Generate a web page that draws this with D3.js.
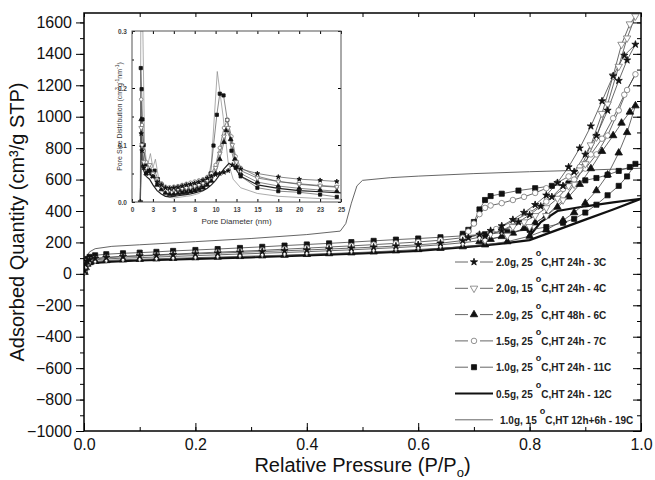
<!DOCTYPE html>
<html>
<head>
<meta charset="utf-8">
<script src="https://cdn.jsdelivr.net/npm/d3@7/dist/d3.min.js"></script>
<style>
  body { margin: 0; background: #fff; }
  text { font-family: Arial, "Liberation Sans", sans-serif; }
</style>
</head>
<body>
<div id="chart"></div>
<script>
// ---- isotherm data: [P/Po, adsorbed quantity] ----
var iso3C = [[0.001,20],[0.003,60],[0.006,80],[0.01,90],[0.02,98],[0.04,104],[0.07,110],[0.1,114],[0.13,118],[0.16,122],[0.2,127],[0.24,132],[0.28,137],[0.32,142],[0.36,147],[0.4,152],[0.44,158],[0.48,164],[0.52,170],[0.56,177],[0.6,185],[0.64,195],[0.68,212],[0.72,240],[0.75,275],[0.78,330],[0.8,375],[0.82,430],[0.84,490],[0.86,560],[0.88,650],[0.9,760],[0.92,880],[0.94,1040],[0.96,1230],[0.975,1360],[0.99,1460],
  [0.97,1390],[0.95,1260],[0.93,1100],[0.91,940],[0.89,800],[0.87,680],[0.85,580],[0.83,500],[0.81,440],[0.79,390],[0.77,345],[0.75,305],[0.73,275],[0.71,250],[0.69,230]];
var iso4C = [[0.001,15],[0.003,50],[0.006,72],[0.01,82],[0.02,90],[0.04,95],[0.07,100],[0.1,103],[0.13,107],[0.16,111],[0.2,116],[0.24,121],[0.28,126],[0.32,131],[0.36,136],[0.4,141],[0.44,147],[0.48,153],[0.52,160],[0.56,167],[0.6,175],[0.64,185],[0.68,198],[0.72,215],[0.76,245],[0.8,300],[0.83,370],[0.86,470],[0.88,570],[0.9,700],[0.92,870],[0.94,1080],[0.96,1320],[0.975,1500],[0.99,1640],
  [0.98,1590],[0.965,1460],[0.95,1260],[0.93,1020],[0.91,820],[0.89,660],[0.87,560],[0.85,480],[0.83,420],[0.81,370],[0.79,330],[0.77,300],[0.75,275],[0.73,255],[0.71,235]];
var iso6C = [[0.001,10],[0.003,40],[0.006,62],[0.01,72],[0.02,80],[0.04,85],[0.07,90],[0.1,93],[0.13,96],[0.16,99],[0.2,103],[0.24,107],[0.28,111],[0.32,115],[0.36,119],[0.4,124],[0.44,129],[0.48,134],[0.52,140],[0.56,147],[0.6,155],[0.64,163],[0.68,173],[0.72,185],[0.76,205],[0.8,240],[0.83,280],[0.86,340],[0.88,390],[0.9,450],[0.92,530],[0.94,630],[0.96,770],[0.975,900],[0.99,1070],
  [0.98,1030],[0.965,960],[0.95,880],[0.93,780],[0.91,670],[0.89,570],[0.87,490],[0.85,425],[0.83,370],[0.81,325],[0.79,290],[0.77,260],[0.75,238],[0.73,220],[0.71,205]];
var iso7C = [[0.001,18],[0.003,58],[0.006,78],[0.01,88],[0.02,96],[0.04,104],[0.07,111],[0.1,116],[0.13,121],[0.16,126],[0.2,132],[0.24,138],[0.28,144],[0.32,150],[0.36,157],[0.4,164],[0.44,171],[0.48,178],[0.52,186],[0.56,194],[0.6,203],[0.64,214],[0.68,230],[0.71,250],[0.74,285],[0.77,335],[0.8,390],[0.83,460],[0.86,540],[0.88,600],[0.9,670],[0.92,760],[0.94,880],[0.96,1040],[0.975,1170],[0.99,1270],
  [0.97,1140],[0.95,990],[0.93,860],[0.91,760],[0.89,680],[0.87,620],[0.85,580],[0.83,545],[0.81,515],[0.79,490],[0.77,470],[0.75,450],[0.73,435],[0.72,420],[0.71,380],[0.7,320],[0.69,270]];
var iso11C = [[0.001,22],[0.003,68],[0.006,95],[0.01,108],[0.02,118],[0.04,125],[0.07,131],[0.1,135],[0.13,140],[0.16,146],[0.2,152],[0.24,158],[0.28,165],[0.32,172],[0.36,180],[0.4,187],[0.44,194],[0.48,202],[0.52,210],[0.56,218],[0.6,225],[0.64,233],[0.68,242],[0.72,252],[0.76,265],[0.8,280],[0.83,298],[0.86,325],[0.88,350],[0.9,390],[0.92,440],[0.94,500],[0.96,560],[0.975,620],[0.99,700],
  [0.98,680],[0.96,655],[0.94,630],[0.92,610],[0.9,595],[0.87,575],[0.84,560],[0.81,545],[0.78,530],[0.75,510],[0.73,495],[0.72,470],[0.71,410],[0.7,330],[0.69,280],[0.68,255]];
var iso12C = [[0,0],[0.002,30],[0.005,50],[0.01,62],[0.02,70],[0.05,78],[0.1,85],[0.2,95],[0.3,105],[0.4,117],[0.5,130],[0.6,146],[0.7,175],[0.75,192],[0.8,215],[0.85,280],[0.9,345],[0.95,410],[1.0,478],
  [0.95,455],[0.9,430],[0.85,400],[0.82,330],[0.8,240]];
var iso19C = [[0,0],[0.002,60],[0.005,110],[0.01,140],[0.02,160],[0.05,175],[0.1,185],[0.2,205],[0.3,225],[0.4,250],[0.46,272],[0.47,320],[0.48,450],[0.49,560],[0.5,595],[0.55,612],[0.6,622],[0.7,638],[0.8,650],[0.9,660],[1.0,672]];

// ---- pore size distribution (inset): [pore diameter nm, PSD] ----
var psd3C = [[1.0,0],[1.1,0.12],[1.2,0.09],[1.4,0.06],[1.7,0.05],[2.1,0.055],[2.5,0.045],[3.0,0.035],[3.5,0.03],[4.0,0.025],[4.5,0.024],[5.0,0.025],[5.5,0.026],[6.0,0.028],[6.5,0.03],[7.0,0.031],[7.5,0.033],[8.0,0.035],[8.5,0.038],[9.0,0.042],[9.5,0.045],[10,0.048],[10.5,0.05],[11,0.052],[11.5,0.055],[12,0.065],[12.5,0.062],[13,0.058],[15,0.05],[17.5,0.044],[20,0.04],[22.5,0.038],[24.5,0.036]];
var psd4C = [[1.0,0],[1.1,0.13],[1.2,0.1],[1.4,0.07],[1.7,0.06],[2.1,0.065],[2.5,0.05],[3.0,0.038],[3.5,0.03],[4.0,0.024],[4.5,0.022],[5.0,0.022],[5.5,0.023],[6.0,0.024],[6.5,0.025],[7.0,0.026],[7.5,0.028],[8.0,0.03],[8.5,0.033],[9.0,0.038],[9.5,0.045],[10,0.06],[10.5,0.085],[11,0.115],[11.5,0.13],[12,0.1],[12.5,0.07],[13,0.055],[15,0.042],[17.5,0.036],[20,0.032],[22.5,0.029],[24.5,0.027]];
var psd6C = [[1.0,0],[1.1,0.145],[1.2,0.1],[1.4,0.065],[1.7,0.05],[2.1,0.055],[2.5,0.045],[3.0,0.03],[3.5,0.022],[4.0,0.016],[4.5,0.014],[5.0,0.014],[5.5,0.015],[6.0,0.016],[6.5,0.017],[7.0,0.018],[7.5,0.02],[8.0,0.022],[8.5,0.025],[9.0,0.03],[9.5,0.037],[10,0.05],[10.5,0.075],[11,0.105],[11.3,0.126],[11.8,0.11],[12.3,0.075],[13,0.05],[15,0.035],[17.5,0.028],[20,0.024],[22.5,0.021],[24.5,0.019]];
var psd7C = [[1.0,0],[1.1,0.18],[1.2,0.135],[1.4,0.09],[1.7,0.07],[2.1,0.06],[2.5,0.05],[3.0,0.04],[3.5,0.032],[4.0,0.027],[4.5,0.026],[5.0,0.027],[5.5,0.028],[6.0,0.03],[6.5,0.032],[7.0,0.034],[7.5,0.036],[8.0,0.038],[8.5,0.04],[9.0,0.044],[9.5,0.05],[10,0.065],[10.5,0.095],[11,0.13],[11.4,0.144],[11.9,0.115],[12.4,0.08],[13,0.06],[15,0.045],[17.5,0.036],[20,0.031],[22.5,0.028],[24.5,0.026]];
var psd11C = [[1.0,0],[1.05,0.235],[1.15,0.198],[1.25,0.145],[1.4,0.1],[1.6,0.065],[1.9,0.055],[2.3,0.05],[2.7,0.055],[3.1,0.04],[3.5,0.032],[4.0,0.025],[4.5,0.022],[5.0,0.022],[5.5,0.021],[6.0,0.02],[6.5,0.021],[7.0,0.022],[7.5,0.024],[8.0,0.026],[8.5,0.029],[9.0,0.035],[9.4,0.05],[9.75,0.099],[10.15,0.153],[10.5,0.19],[10.95,0.187],[11.4,0.144],[11.9,0.09],[12.4,0.06],[13,0.045],[15,0.025],[17.5,0.019],[20,0.017],[22.5,0.013],[24.5,0.009]];
var psd12C = [[1.0,0],[1.1,0.1],[1.2,0.075],[1.4,0.055],[1.7,0.045],[2.1,0.04],[2.5,0.03],[3.0,0.02],[3.5,0.014],[4.0,0.01],[4.5,0.009],[5.0,0.01],[5.5,0.011],[6.0,0.012],[6.5,0.013],[7.0,0.014],[7.5,0.016],[8.0,0.018],[8.5,0.02],[9.0,0.024],[9.5,0.03],[10,0.038],[10.5,0.048],[11,0.058],[11.6,0.068],[12.2,0.062],[13,0.045],[15,0.03],[17.5,0.024],[20,0.02],[22.5,0.018],[25,0.016]];
var psd19C = [[1.0,0],[1.05,0.3],[1.3,0.3],[1.5,0.1],[1.8,0.06],[2.2,0.085],[2.5,0.06],[2.8,0.075],[3.2,0.04],[3.6,0.02],[4.0,0.012],[4.5,0.008],[5.0,0.007],[5.5,0.008],[6.0,0.009],[6.5,0.01],[7.0,0.011],[7.5,0.013],[8.0,0.015],[8.5,0.02],[9.0,0.03],[9.5,0.07],[10.2,0.229],[10.9,0.15],[11.5,0.07],[12.1,0.04],[13,0.025],[15,0.015],[17.5,0.01],[20,0.008],[22.5,0.006],[25,0.005]];

var seriesLabels = [
  ['2.0g, 25', 'C,HT 24h - 3C'],
  ['2.0g, 15', 'C,HT 24h - 4C'],
  ['2.0g, 25', 'C,HT 48h - 6C'],
  ['1.5g, 25', 'C,HT 24h - 7C'],
  ['1.0g, 25', 'C,HT 24h - 11C'],
  ['0.5g, 25', 'C,HT 24h - 12C'],
  ['1.0g, 15', 'C,HT 12h+6h - 19C']
];
var yTicks = [-1000, -800, -600, -400, -200, 0, 200, 400, 600, 800, 1000, 1200, 1400, 1600];
var xTicks = [0.0, 0.2, 0.4, 0.6, 0.8, 1.0];

// series styling
var series = [
  { iso: iso3C,  psd: psd3C,  marker: 'star',   size: 16, fill: '#111', stroke: '#111', line: '#444', lw: 0.8 },
  { iso: iso4C,  psd: psd4C,  marker: 'down',   size: 24, fill: '#fff', stroke: '#777', line: '#444', lw: 0.8 },
  { iso: iso6C,  psd: psd6C,  marker: 'tri',    size: 24, fill: '#111', stroke: '#111', line: '#444', lw: 0.8 },
  { iso: iso7C,  psd: psd7C,  marker: 'circle', size: 24, fill: '#fff', stroke: '#777', line: '#444', lw: 0.8 },
  { iso: iso11C, psd: psd11C, marker: 'square', size: 26, fill: '#111', stroke: '#111', line: '#444', lw: 0.8 },
  { iso: iso12C, psd: psd12C, marker: null,     size: 0,  fill: null,   stroke: null,   line: '#111', lw: 2.2 },
  { iso: iso19C, psd: psd19C, marker: null,     size: 0,  fill: null,   stroke: null,   line: '#555', lw: 0.9 }
];

var width = 655, height = 480;
var plot = { left: 84, right: 641, top: 13, bottom: 431 };

var svg = d3.select('#chart').append('svg')
    .attr('width', width)
    .attr('height', height);

var x = d3.scaleLinear().domain([0, 1]).range([plot.left, plot.right]);
var y = d3.scaleLinear().domain([-1000, 1660]).range([plot.bottom, plot.top]);

var symbolTypes = {
  star: d3.symbolStar, down: d3.symbolTriangle, tri: d3.symbolTriangle,
  circle: d3.symbolCircle, square: d3.symbolSquare
};

function drawMarkers(g, data, s, sx, sy, scale) {
  if (!s.marker) return;
  var sym = d3.symbol().type(symbolTypes[s.marker]).size(s.size * scale);
  g.selectAll(null)
    .data(data)
    .enter()
    .append('path')
    .attr('d', sym)
    .attr('transform', function (d) {
      return 'translate(' + sx(d[0]) + ',' + sy(d[1]) + ')' + (s.marker === 'down' ? ' rotate(180)' : '');
    })
    .attr('fill', s.fill)
    .attr('stroke', s.stroke)
    .attr('stroke-width', 0.8);
}

// clip for main plot
svg.append('clipPath').attr('id', 'clipMain')
  .append('rect')
  .attr('x', plot.left).attr('y', plot.top)
  .attr('width', plot.right - plot.left).attr('height', plot.bottom - plot.top);

var main = svg.append('g').attr('clip-path', 'url(#clipMain)');
var line = d3.line().x(function (d) { return x(d[0]); }).y(function (d) { return y(d[1]); });

// draw lines first, then markers (reverse order so 3C ends on top)
series.slice().reverse().forEach(function (s) {
  main.append('path')
    .attr('d', line(s.iso))
    .attr('fill', 'none')
    .attr('stroke', s.line)
    .attr('stroke-width', s.lw);
});
series.slice().reverse().forEach(function (s) {
  drawMarkers(main.append('g'), s.iso, s, x, y, 1);
});

// ---- main axes ----
var minorY = d3.range(-1000, 1700, 100);
var minorX = d3.range(0, 1.01, 0.1);

// left: outward ticks
svg.append('g')
  .attr('transform', 'translate(' + plot.left + ',0)')
  .call(d3.axisLeft(y).tickValues(minorY).tickSize(4).tickFormat(''))
  .call(function (g) { g.select('.domain').remove(); });
svg.append('g')
  .attr('transform', 'translate(' + plot.left + ',0)')
  .call(d3.axisLeft(y).tickValues(yTicks).tickSize(8).tickPadding(4).tickFormat(d3.format('d')))
  .call(function (g) {
    g.select('.domain').remove();
    g.selectAll('text').attr('font-size', 16).attr('fill', '#111');
  });
// right: inward ticks
svg.append('g')
  .attr('transform', 'translate(' + plot.right + ',0)')
  .call(d3.axisLeft(y).tickValues(minorY).tickSize(4).tickFormat(''))
  .call(function (g) { g.select('.domain').remove(); g.selectAll('line').attr('x2', -4); });
svg.append('g')
  .attr('transform', 'translate(' + plot.right + ',0)')
  .call(d3.axisLeft(y).tickValues(yTicks).tickSize(8).tickFormat(''))
  .call(function (g) { g.select('.domain').remove(); });
// bottom: inward ticks
svg.append('g')
  .attr('transform', 'translate(0,' + plot.bottom + ')')
  .call(d3.axisTop(x).tickValues(minorX).tickSize(4).tickFormat(''))
  .call(function (g) { g.select('.domain').remove(); });
svg.append('g')
  .attr('transform', 'translate(0,' + plot.bottom + ')')
  .call(d3.axisBottom(x).tickValues(xTicks).tickSizeInner(-8).tickSizeOuter(0).tickPadding(8).tickFormat(d3.format('.1f')))
  .call(function (g) {
    g.select('.domain').remove();
    g.selectAll('text').attr('font-size', 16).attr('fill', '#111');
  });
// top: inward ticks
svg.append('g')
  .attr('transform', 'translate(0,' + plot.top + ')')
  .call(d3.axisBottom(x).tickValues(minorX).tickSize(4).tickFormat(''))
  .call(function (g) { g.select('.domain').remove(); });

svg.append('rect')
  .attr('x', plot.left).attr('y', plot.top)
  .attr('width', plot.right - plot.left).attr('height', plot.bottom - plot.top)
  .attr('fill', 'none').attr('stroke', '#000').attr('stroke-width', 1.5);

// axis titles
var xt = svg.append('text')
  .attr('x', (plot.left + plot.right) / 2).attr('y', 472)
  .attr('text-anchor', 'middle').attr('font-size', 20).attr('fill', '#111');
xt.append('tspan').text('Relative Pressure (P/P');
xt.append('tspan').attr('font-size', 13).attr('dy', 5).text('o');
xt.append('tspan').attr('dy', -5).text(')');

svg.append('text')
  .attr('transform', 'translate(24,' + (plot.top + plot.bottom) / 2 + ') rotate(-90)')
  .attr('text-anchor', 'middle').attr('font-size', 20).attr('fill', '#111')
  .text('Adsorbed Quantity (cm³/g STP)');

// ---- legend ----
var legend = svg.append('g');
series.forEach(function (s, i) {
  var ly = 262 + i * 26.3;
  var g = legend.append('g');
  g.append('line')
    .attr('x1', 455).attr('x2', 493).attr('y1', ly).attr('y2', ly)
    .attr('stroke', s.marker ? '#666' : s.line)
    .attr('stroke-width', s.marker ? 1 : s.lw);
  if (s.marker) {
    g.append('rect').attr('x', 468).attr('y', ly - 4).attr('width', 12).attr('height', 8).attr('fill', '#fff');
    drawMarkers(g, [[474, ly]], s, function (v) { return v; }, function (v) { return v; }, 1);
  }
  var t = g.append('text')
    .attr('x', i === 6 ? 500 : 496).attr('y', ly + 4)
    .attr('font-size', 10).attr('font-weight', 'bold').attr('fill', '#222');
  t.append('tspan').text(seriesLabels[i][0]);
  t.append('tspan').attr('dx', 3).attr('dy', -10).attr('font-size', 9).text('o');
  t.append('tspan').attr('dx', 0).attr('dy', 10).text(seriesLabels[i][1]);
});

// ---- inset ----
var inset = { left: 132, right: 341, top: 31, bottom: 202 };
var ix = d3.scaleLinear().domain([0, 25]).range([inset.left, inset.right]);
var iy = d3.scaleLinear().domain([0, 0.3]).range([inset.bottom, inset.top]);

svg.append('rect')
  .attr('x', inset.left).attr('y', inset.top)
  .attr('width', inset.right - inset.left).attr('height', inset.bottom - inset.top)
  .attr('fill', '#fff');

svg.append('clipPath').attr('id', 'clipInset')
  .append('rect')
  .attr('x', inset.left).attr('y', inset.top)
  .attr('width', inset.right - inset.left).attr('height', inset.bottom - inset.top);

var ig = svg.append('g').attr('clip-path', 'url(#clipInset)');
var iline = d3.line().x(function (d) { return ix(d[0]); }).y(function (d) { return iy(d[1]); });
series.slice().reverse().forEach(function (s) {
  ig.append('path')
    .attr('d', iline(s.psd))
    .attr('fill', 'none')
    .attr('stroke', s.marker ? '#555' : (s.lw > 1 ? '#222' : '#888'))
    .attr('stroke-width', s.lw > 1 ? 1.2 : 0.7);
});
series.slice().reverse().forEach(function (s) {
  drawMarkers(ig.append('g'), s.psd, s, ix, iy, 0.4);
});

var insetXTicks = d3.range(0, 25.1, 2.5);
var insetYTicks = [0, 0.1, 0.2, 0.3];
svg.append('g')
  .attr('transform', 'translate(0,' + inset.bottom + ')')
  .call(d3.axisBottom(ix).tickValues(insetXTicks).tickSizeInner(-3).tickSizeOuter(0).tickPadding(5)
    .tickFormat(function (d) { return Math.round(d); }))
  .call(function (g) {
    g.select('.domain').remove();
    g.selectAll('text').attr('font-size', 6.5).attr('font-weight', 'bold').attr('fill', '#444');
  });
svg.append('g')
  .attr('transform', 'translate(0,' + inset.top + ')')
  .call(d3.axisBottom(ix).tickValues(insetXTicks).tickSize(3).tickFormat(''))
  .call(function (g) { g.select('.domain').remove(); });
svg.append('g')
  .attr('transform', 'translate(' + inset.left + ',0)')
  .call(d3.axisRight(iy).tickValues([0.05, 0.15, 0.25]).tickSize(2).tickFormat(''))
  .call(function (g) { g.select('.domain').remove(); });
svg.append('g')
  .attr('transform', 'translate(' + inset.left + ',0)')
  .call(d3.axisLeft(iy).tickValues(insetYTicks).tickSizeInner(-3).tickSizeOuter(0).tickPadding(5).tickFormat(d3.format('.1f')))
  .call(function (g) {
    g.select('.domain').remove();
    g.selectAll('text').attr('font-size', 6.5).attr('font-weight', 'bold').attr('fill', '#444');
  });
svg.append('g')
  .attr('transform', 'translate(' + inset.right + ',0)')
  .call(d3.axisLeft(iy).tickValues(insetYTicks).tickSize(3).tickFormat(''))
  .call(function (g) { g.select('.domain').remove(); });

svg.append('rect')
  .attr('x', inset.left).attr('y', inset.top)
  .attr('width', inset.right - inset.left).attr('height', inset.bottom - inset.top)
  .attr('fill', 'none').attr('stroke', '#555').attr('stroke-width', 1);

svg.append('text')
  .attr('x', (inset.left + inset.right) / 2).attr('y', 224)
  .attr('text-anchor', 'middle').attr('font-size', 8).attr('fill', '#333')
  .text('Pore Diameter (nm)');

var iyt = svg.append('text')
  .attr('transform', 'translate(122,' + (inset.top + inset.bottom) / 2 + ') rotate(-90)')
  .attr('text-anchor', 'middle').attr('font-size', 7).attr('fill', '#333');
iyt.append('tspan').text('Pore Size Distribution (cm');
iyt.append('tspan').attr('font-size', 5).attr('dy', -3).text('3');
iyt.append('tspan').attr('dy', 3).text('g');
iyt.append('tspan').attr('font-size', 5).attr('dy', -3).text('-1');
iyt.append('tspan').attr('dy', 3).text('nm');
iyt.append('tspan').attr('font-size', 5).attr('dy', -3).text('-1');
iyt.append('tspan').attr('dy', 3).text(')');
</script>
</body>
</html>
